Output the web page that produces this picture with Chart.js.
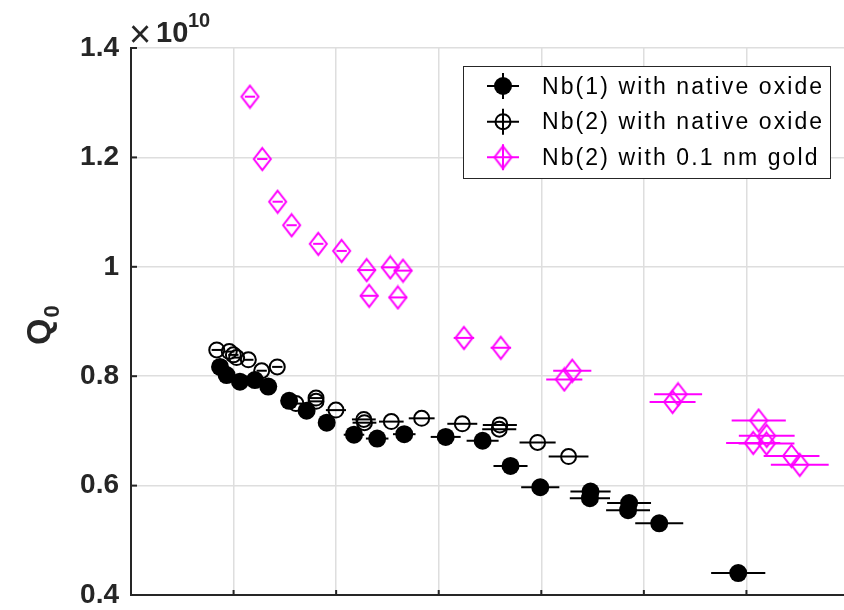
<!DOCTYPE html>
<html>
<head>
<meta charset="utf-8">
<script src="https://cdn.jsdelivr.net/npm/chart.js@4/dist/chart.umd.min.js"></script>
<style>
  html, body { margin: 0; padding: 0; background: #fff; overflow: hidden; width: 844px; height: 610px; }
  #wrap { position: absolute; left: 0; top: 0; width: 870px; height: 640px; }
</style>
</head>
<body>
<div id="wrap"><canvas id="q0"></canvas></div>
<script>
'use strict';

// Nb(1) with native oxide
var nb1X   = [4.34, 4.66, 5.31, 6.04, 6.69, 7.71, 8.56, 9.54, 10.87, 12.0, 13.32, 15.34, 17.14, 18.50, 19.95, 22.40, 22.37, 24.28, 24.23, 25.75, 29.60];
var nb1Q   = [0.817, 0.802, 0.790, 0.793, 0.781, 0.755, 0.737, 0.715, 0.693, 0.686, 0.694, 0.689, 0.682, 0.636, 0.597, 0.589, 0.577, 0.568, 0.555, 0.531, 0.440];
var nb1Err = [0.25, 0.25, 0.25, 0.25, 0.25, 0.35, 0.35, 0.35, 0.5, 0.55, 0.55, 0.73, 0.78, 0.83, 0.93, 0.98, 0.98, 1.07, 1.07, 1.17, 1.32];

// Nb(2) with native oxide
var nb2X   = [4.18, 4.79, 4.99, 5.15, 5.72, 6.37, 7.13, 8.04, 9.02, 9.02, 9.99, 11.35, 11.38, 12.69, 14.17, 16.15, 17.98, 17.95, 19.82, 21.33];
var nb2Q   = [0.848, 0.845, 0.839, 0.834, 0.830, 0.810, 0.817, 0.750, 0.760, 0.754, 0.738, 0.721, 0.715, 0.717, 0.723, 0.713, 0.711, 0.703, 0.679, 0.653];
var nb2Err = [0.25, 0.25, 0.25, 0.25, 0.25, 0.25, 0.25, 0.35, 0.35, 0.35, 0.49, 0.58, 0.58, 0.6, 0.63, 0.73, 0.83, 0.83, 0.88, 0.97];

// Nb(2) with 0.1 nm gold
var auX    = [5.80, 6.40, 7.15, 7.83, 9.13, 10.27, 11.49, 11.61, 12.64, 13.26, 13.01, 16.23, 18.03, 21.51, 21.12, 26.67, 26.40, 30.60, 30.99, 30.98, 30.33, 32.20, 32.60];
var auQ    = [1.311, 1.197, 1.119, 1.076, 1.042, 1.029, 0.994, 0.947, 0.999, 0.993, 0.944, 0.870, 0.852, 0.810, 0.794, 0.767, 0.753, 0.719, 0.691, 0.677, 0.678, 0.654, 0.638];
var auErr  = [0.25, 0.25, 0.25, 0.25, 0.25, 0.25, 0.45, 0.45, 0.45, 0.45, 0.45, 0.5, 0.5, 0.93, 0.88, 1.17, 1.12, 1.32, 1.36, 1.36, 1.32, 1.36, 1.41];

var seriesNames = ['Nb(1) with native oxide', 'Nb(2) with native oxide', 'Nb(2) with 0.1 nm gold'];
var yTicks = [0.4, 0.6, 0.8, 1.0, 1.2, 1.4];
var axisColor = '#262626';
var font = '"Liberation Sans", Arial, sans-serif';

function points(xs, ys, errs) {
  var out = [];
  for (var i = 0; i < xs.length; i++) {
    out.push({x: xs[i], y: ys[i], err: errs[i]});
  }
  return out;
}

// tall MATLAB-like diamond marker
function diamondImage(color) {
  var c = document.createElement('canvas');
  c.width = 21; c.height = 26;
  var g = c.getContext('2d');
  g.strokeStyle = color;
  g.lineWidth = 2;
  g.beginPath();
  g.moveTo(10.5, 2);
  g.lineTo(19, 13);
  g.lineTo(10.5, 24);
  g.lineTo(2, 13);
  g.closePath();
  g.stroke();
  return c;
}
var diamond = diamondImage('#ff00ff');

// horizontal error bars, drawn under the markers
var errorBars = {
  id: 'errorBars',
  beforeDatasetsDraw: function(chart) {
    var ctx = chart.ctx;
    var xs = chart.scales.x;
    ctx.save();
    ctx.lineWidth = 2;
    chart.data.datasets.forEach(function(ds, i) {
      var meta = chart.getDatasetMeta(i);
      ctx.strokeStyle = ds.barColor;
      ds.data.forEach(function(p, j) {
        var y = meta.data[j].y;
        ctx.beginPath();
        ctx.moveTo(xs.getPixelForValue(p.x - p.err), y);
        ctx.lineTo(xs.getPixelForValue(p.x + p.err), y);
        ctx.stroke();
      });
    });
    ctx.restore();
  }
};

function drawMarker(ctx, kind, x, y) {
  ctx.lineWidth = 2;
  if (kind === 0) {
    ctx.fillStyle = '#000';
    ctx.beginPath(); ctx.arc(x, y, 9, 0, Math.PI * 2); ctx.fill();
  } else if (kind === 1) {
    ctx.strokeStyle = '#000';
    ctx.beginPath(); ctx.arc(x, y, 7.5, 0, Math.PI * 2); ctx.stroke();
  } else {
    ctx.drawImage(diamond, x - 10.5, y - 13);
  }
}

var decorations = {
  id: 'decorations',
  afterDraw: function(chart) {
    var ctx = chart.ctx;
    var a = chart.chartArea;
    var xs = chart.scales.x, ys = chart.scales.y;
    ctx.save();

    // inward tick marks
    ctx.strokeStyle = axisColor;
    ctx.lineWidth = 2;
    ys.ticks.forEach(function(t) {
      var py = ys.getPixelForValue(t.value);
      ctx.beginPath(); ctx.moveTo(a.left, py); ctx.lineTo(a.left + 6, py); ctx.stroke();
    });
    xs.ticks.forEach(function(t) {
      var px = xs.getPixelForValue(t.value);
      ctx.beginPath(); ctx.moveTo(px, a.bottom); ctx.lineTo(px, a.bottom - 5); ctx.stroke();
    });

    // exponent above the y axis
    ctx.fillStyle = axisColor;
    ctx.textBaseline = 'alphabetic';
    ctx.textAlign = 'left';
    ctx.font = '38px ' + font;
    ctx.fillText('\u00d7', 129, 47);
    ctx.font = 'bold 29px ' + font;
    ctx.fillText('10', 156, 42);
    ctx.font = 'bold 20px ' + font;
    ctx.fillText('10', 188, 27);

    // y axis title Q0
    ctx.save();
    ctx.translate(50, 345);
    ctx.rotate(-Math.PI / 2);
    ctx.font = 'bold 34px ' + font;
    ctx.fillText('Q', 0, 0);
    var qw = ctx.measureText('Q').width;
    ctx.font = 'bold 22px ' + font;
    ctx.fillText('0', qw + 1, 9);
    ctx.restore();

    // legend
    var bx = 463, by = 66, bw = 367, bh = 112;
    ctx.fillStyle = '#fff';
    ctx.fillRect(bx, by, bw, bh);
    ctx.strokeStyle = axisColor;
    ctx.lineWidth = 1;
    ctx.strokeRect(bx + 0.5, by + 0.5, bw, bh);
    var rows = [86, 121.7, 157.3];
    var colors = ['#000', '#000', '#ff00ff'];
    ctx.font = '23px ' + font;
    ctx.letterSpacing = '2.1px';
    for (var i = 0; i < 3; i++) {
      var cy = rows[i];
      ctx.strokeStyle = colors[i];
      ctx.lineWidth = 2;
      ctx.beginPath();
      ctx.moveTo(487, cy); ctx.lineTo(519, cy);
      ctx.moveTo(503, cy - 13); ctx.lineTo(503, cy + 13);
      ctx.stroke();
      drawMarker(ctx, i, 503, cy);
      ctx.fillStyle = '#000';
      ctx.fillText(seriesNames[i], 542, cy + 7.5);
    }
    ctx.restore();
  }
};

new Chart(document.getElementById('q0'), {
  type: 'scatter',
  data: {
    datasets: [{
      label: seriesNames[0],
      data: points(nb1X, nb1Q, nb1Err),
      barColor: '#000',
      pointStyle: 'circle',
      pointRadius: 9,
      pointBackgroundColor: '#000',
      pointBorderWidth: 0
    }, {
      label: seriesNames[1],
      data: points(nb2X, nb2Q, nb2Err),
      barColor: '#000',
      pointStyle: 'circle',
      pointRadius: 7.5,
      pointBackgroundColor: 'rgba(0,0,0,0)',
      pointBorderColor: '#000',
      pointBorderWidth: 2
    }, {
      label: seriesNames[2],
      data: points(auX, auQ, auErr),
      barColor: '#ff00ff',
      pointStyle: diamond,
      pointRadius: 10
    }]
  },
  options: {
    responsive: true,
    maintainAspectRatio: false,
    animation: false,
    layout: { padding: { top: 48, right: 21, left: 0, bottom: 0 } },
    plugins: { legend: { display: false }, tooltip: { enabled: false } },
    scales: {
      x: {
        min: 0, max: 35,
        ticks: { stepSize: 5, display: false },
        grid: { color: '#dedede', lineWidth: 1.5, drawTicks: false },
        border: { display: true, color: axisColor, width: 2 },
        afterFit: function(s) { s.height = 45; }
      },
      y: {
        min: 0.4, max: 1.4,
        afterBuildTicks: function(s) { s.ticks = yTicks.map(function(v) { return {value: v}; }); },
        ticks: {
          color: axisColor,
          padding: 12,
          font: { family: font, size: 28, weight: 'bold' },
          callback: function(v) { return String(+v.toFixed(1)); }
        },
        grid: { color: '#dedede', lineWidth: 1.5, drawTicks: false },
        border: { display: true, color: axisColor, width: 2 },
        afterFit: function(s) { s.width = 131; }
      }
    }
  },
  plugins: [errorBars, decorations]
});
</script>
</body>
</html>
